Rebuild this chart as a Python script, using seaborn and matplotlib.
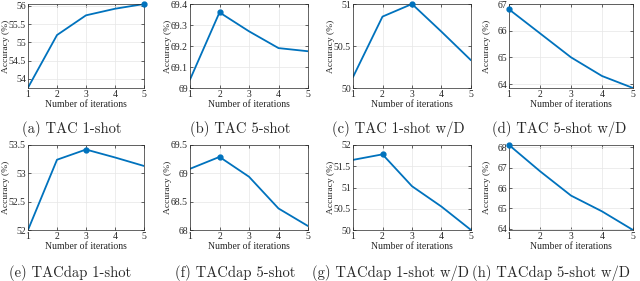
import numpy as np
import pandas as pd
import seaborn as sns
import matplotlib.pyplot as plt

iterations = [1, 2, 3, 4, 5]

tac_1shot = [53.76, 55.20, 55.74, 55.92, 56.05]
tac_5shot = [69.04, 69.36, 69.27, 69.19, 69.175]
tac_1shot_wd = [50.13, 50.85, 51.00, 50.67, 50.33]
tac_5shot_wd = [66.80, 65.90, 65.00, 64.30, 63.85]
dap_1shot = [52.00, 53.24, 53.42, 53.28, 53.13]
dap_5shot = [69.08, 69.29, 68.94, 68.38, 68.07]
dap_1shot_wd = [51.65, 51.78, 51.03, 50.55, 50.00]
dap_5shot_wd = [68.10, 66.82, 65.63, 64.86, 63.95]

captions = ["(a) TAC 1-shot", "(b) TAC 5-shot", "(c) TAC 1-shot w/D", "(d) TAC 5-shot w/D",
            "(e) TACdap 1-shot", "(f) TACdap 5-shot", "(g) TACdap 1-shot w/D", "(h) TACdap 5-shot w/D"]
series = [tac_1shot, tac_5shot, tac_1shot_wd, tac_5shot_wd,
          dap_1shot, dap_5shot, dap_1shot_wd, dap_5shot_wd]
yticks = [[54, 54.5, 55, 55.5, 56], [69, 69.1, 69.2, 69.3, 69.4], [50, 50.5, 51], [64, 65, 66, 67],
          [52, 52.5, 53, 53.5], [68, 68.5, 69, 69.5], [50, 50.5, 51, 51.5, 52], [64, 65, 66, 67, 68]]
ylims = [(53.75, 56.05), (69.0, 69.4), (50.0, 51.0), (63.85, 67.0),
         (52.0, 53.5), (68.0, 69.5), (50.0, 52.0), (63.95, 68.1)]

sns.set_style("whitegrid")
plt.rcParams["font.family"] = ["Liberation Serif", "DejaVu Serif"]
plt.rcParams["xtick.direction"] = "in"
plt.rcParams["ytick.direction"] = "in"

blue = "#0072BD"
fig = plt.figure(figsize=(6.4, 2.81), dpi=100)

# axes boxes in pixels (left, right) per column, (top, bottom) per row
cols = [(28, 144), (190, 308), (353, 471), (509, 633)]
rows = [(4, 88), (145, 230)]
cap_y = [129, 273]
cap_x = [72, 240, 398, 559, 70, 235, 390, 551]
W, H = 640, 281

for i, (vals, cap) in enumerate(zip(series, captions)):
    r, c = divmod(i, 4)
    l, rr = cols[c]
    t, b = rows[r]
    ax = fig.add_axes([l / W, 1 - b / H, (rr - l) / W, (b - t) / H])
    df = pd.DataFrame({"it": iterations, "acc": vals})
    sns.lineplot(data=df, x="it", y="acc", ax=ax, color=blue, linewidth=1.3)
    k = int(np.argmax(vals))
    ax.plot(iterations[k], vals[k], "o", color=blue, markersize=3.5, clip_on=False, zorder=5)
    ax.set_xlim(1, 5)
    ax.set_ylim(*ylims[i])
    ax.set_xticks(iterations)
    ax.set_yticks(yticks[i])
    ax.set_yticklabels([f"{v:g}" for v in yticks[i]])
    ax.tick_params(labelsize=7, length=2, width=0.5, pad=1.5, colors="#262626",
                   top=True, right=True, left=True, bottom=True)
    ax.set_xlabel("Number of iterations", fontsize=7, labelpad=1, color="#262626")
    ax.set_ylabel("Accuracy (%)", fontsize=6.8, color="#262626")
    ax.yaxis.set_label_coords(-18 / (rr - l), 0.5)
    ax.grid(True, color="#e6e6e6", linewidth=0.5)
    for s in ax.spines.values():
        s.set_color("#262626")
        s.set_linewidth(0.5)
    fig.text(cap_x[i] / W, 1 - cap_y[r] / H, cap, ha="center", va="center",
             fontsize=10.5, family="cmr10")

fig.savefig("out.png", dpi=100)
